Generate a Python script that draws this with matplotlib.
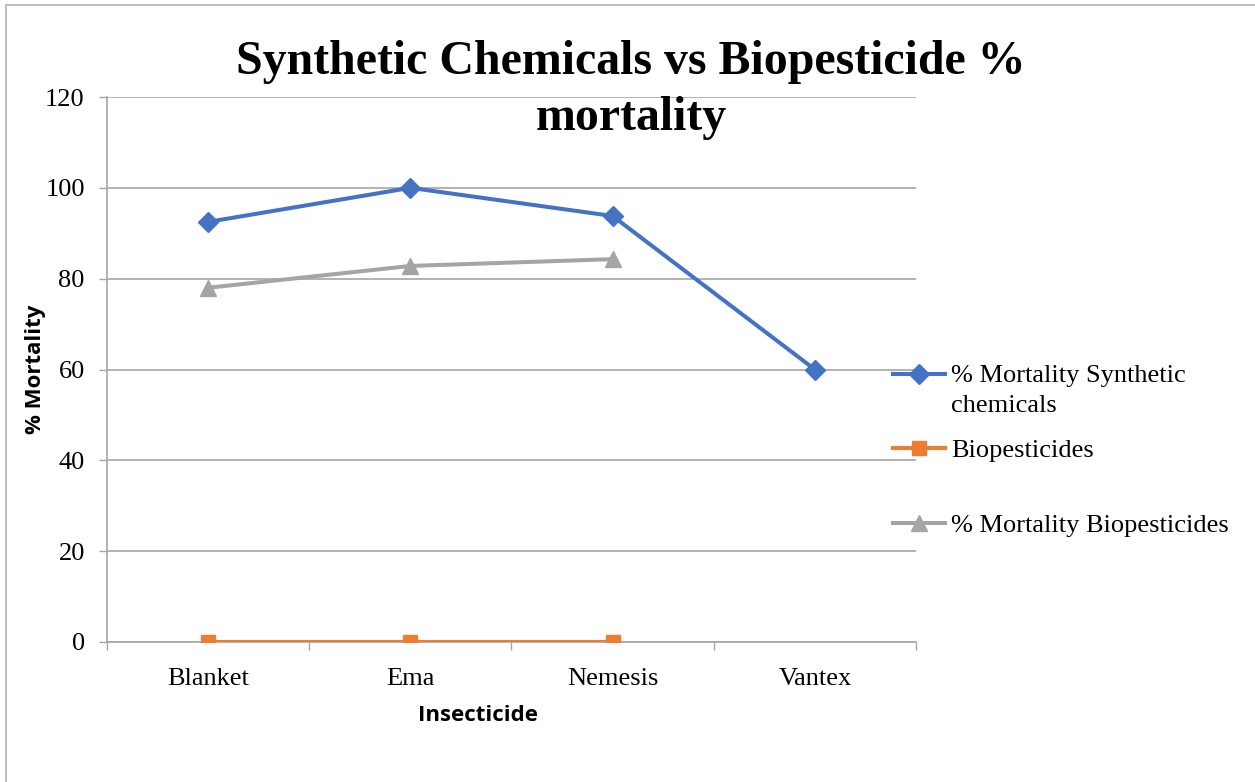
import matplotlib
matplotlib.use("Agg")
import matplotlib.pyplot as plt
import numpy as np
from matplotlib.lines import Line2D

# data
insecticides = ["Blanket", "Ema", "Nemesis", "Vantex"]
synthetic = [92.5, 100, 93.8, 60]
biopesticides = [0, 0, 0, np.nan]
bio_mortality = [78.0, 82.8, 84.3, np.nan]
yticks = [0, 20, 40, 60, 80, 100, 120]
labels = ["% Mortality Synthetic\nchemicals", "Biopesticides", "% Mortality Biopesticides"]

blue = "#4472C4"
orange = "#ED7D31"
grey = "#A5A5A5"
axcol = "#A6A6A6"
serif = "Liberation Serif"
sans = "Open Sans"

W, H = 1255, 782
fig = plt.figure(figsize=(W/100, H/100), dpi=100)
ax = fig.add_axes([107/W, 1-642/H, (916-107)/W, (642-97)/H])

styles = [dict(color=blue, lw=2.9, marker="D", ms=10),
          dict(color=orange, lw=2.9, marker="s", ms=10),
          dict(color=grey, lw=2.9, marker="^", ms=11)]

x = np.arange(len(insecticides))
ax.plot(x, synthetic, zorder=4, **styles[0])
ax.plot(x, biopesticides, zorder=3, **styles[1])
ax.plot(x, bio_mortality, zorder=3, **styles[2])

ax.set_xlim(-0.5, 3.5)
ax.set_ylim(0, 120)
ax.set_yticks(yticks)
ax.set_xticks(x)
ax.set_xticklabels(insecticides, fontfamily=serif, fontsize=19)
ax.set_xticks(np.arange(-0.5, 4, 1), minor=True)
ax.tick_params(axis="x", which="major", length=0, pad=19)
ax.tick_params(axis="x", which="minor", length=6, color=axcol, width=1)
ax.tick_params(axis="y", length=6, color=axcol, width=1, pad=10)
for lab in ax.get_yticklabels():
    lab.set_fontfamily(serif)
    lab.set_fontsize(19)

ax.grid(axis="y", color=axcol, lw=1.2)
ax.set_axisbelow(True)
for s in ["top", "right"]:
    ax.spines[s].set_visible(False)
for s in ["left", "bottom"]:
    ax.spines[s].set_color(axcol)
    ax.spines[s].set_linewidth(1.2)

ax.set_xlabel("Insecticide", fontfamily=sans, fontweight="bold", fontsize=16)
ax.xaxis.set_label_coords((478-107)/809, -(705-642)/545)
ax.set_ylabel("% Mortality", fontfamily=sans, fontweight="bold", fontsize=16)
ax.yaxis.set_label_coords(-(107-46)/809, 0.5)

fig.text(631/W, 1-40/H, "Synthetic Chemicals vs Biopesticide %\nmortality",
         ha="center", va="top", fontfamily=serif, fontweight="bold",
         fontsize=34.5, linespacing=1.35)

# legend: one entry each so the uneven Excel spacing can be kept
handles = [Line2D([], [], **st) for st in styles]
legend_y = [373, 450, 525]
for i, (h, lab) in enumerate(zip(handles, labels)):
    leg = fig.legend([h], [lab], loc="center left",
                     bbox_to_anchor=(893/W, 1-legend_y[i]/H),
                     frameon=False, prop={"family": serif, "size": 19},
                     handlelength=1.97, handletextpad=0.23, borderpad=0,
                     borderaxespad=0)
    if "\n" in lab:
        leg.get_texts()[0].set_linespacing(1.5)
        leg.set_bbox_to_anchor((893/W, 1-(legend_y[i]-8)/H))
        leg._loc = 2  # upper left
        for col in leg._legend_handle_box.get_children():
            for hp in col.get_children():
                hp.align = "top"

# outer chart frame (top and left edges visible)
fig.add_artist(Line2D([6/W, 6/W], [0, 1-5/H], color="#BFBFBF", lw=1.5))
fig.add_artist(Line2D([6/W, 1], [1-5/H, 1-5/H], color="#BFBFBF", lw=1.5))

fig.savefig("out.png", dpi=100)
